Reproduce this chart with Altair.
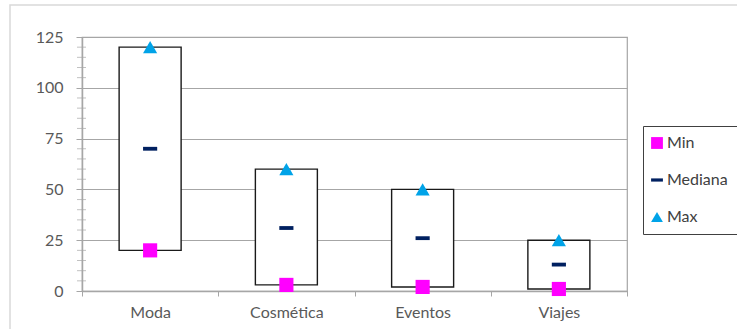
import altair as alt
import pandas as pd

categories = ["Moda", "Cosmética", "Eventos", "Viajes"]
min_vals = [20, 3, 2, 1]
median_vals = [70, 31, 26, 13]
max_vals = [120, 60, 50, 25]
y_ticks = [0, 25, 50, 75, 100, 125]
minor_ticks = [5, 10, 15, 20, 30, 35, 40, 45, 55, 60, 65, 70, 80, 85, 90, 95, 105, 110, 115, 120]

series_names = ["Min", "Mediana", "Max"]
series_colors = ["#FF00FF", "#002060", "#00A3E8"]
dash_path = "M-1,-0.27L1,-0.27L1,0.27L-1,0.27Z"
series_shapes = ["square", dash_path, "triangle-up"]

wide = pd.DataFrame({"cat": categories, "Min": min_vals, "Mediana": median_vals, "Max": max_vals})
rows = []
for s, vals in zip(series_names, [min_vals, median_vals, max_vals]):
    for c, v in zip(categories, vals):
        rows.append({"cat": c, "serie": s, "valor": v})
long = pd.DataFrame(rows)
minor = pd.DataFrame({"v": minor_ticks})

FONT = "Lato"
xenc = alt.X("cat:N", sort=categories, title=None,
             scale=alt.Scale(paddingInner=0, paddingOuter=0),
             axis=alt.Axis(labelAngle=0, tickBand="extent", labelFont=FONT, labelFontSize=16,
                           labelColor="#595959", labelPadding=8, tickSize=5, tickColor="#a6a6a6",
                           domainColor="#a6a6a6", domainWidth=1.5, grid=False))
yscale = alt.Scale(domain=[0, 125], nice=False, zero=True)

border = alt.Chart(pd.DataFrame({"a": [0]})).mark_rect(fill=None, stroke="#d9d9d9", strokeWidth=1.5).encode(
    x=alt.value(-72), x2=alt.value(660), y=alt.value(-32), y2=alt.value(297))

boxes = alt.Chart(wide).mark_bar(fill="white", stroke="#1a1a1a", strokeWidth=1.4, size=62).encode(
    x=xenc,
    y=alt.Y("Min:Q", scale=yscale, title=None,
            axis=alt.Axis(values=y_ticks, labelFont=FONT, labelFontSize=16, labelColor="#595959",
                          labelPadding=13, tickSize=6, tickColor="#a6a6a6", domainColor="#a6a6a6",
                          domainWidth=1.5, gridColor="#a6a6a6", gridWidth=1.2)),
    y2="Max:Q")

minor_layer = alt.Chart(minor).mark_tick(orient="horizontal", color="#a6a6a6", size=9, thickness=1).encode(
    y=alt.Y("v:Q", scale=yscale), x=alt.value(-0.5))

points = alt.Chart(long).mark_point(filled=True, opacity=1, size=200).encode(
    x=alt.X("cat:N", sort=categories),
    y=alt.Y("valor:Q", scale=yscale),
    color=alt.Color("serie:N", scale=alt.Scale(domain=series_names, range=series_colors), title=None,
                    legend=alt.Legend(orient="none", legendX=561, legendY=89, strokeColor="#404040",
                                      padding=9, rowPadding=21, labelFont=FONT, labelFontSize=16,
                                      labelColor="#404040", symbolSize=140, labelOffset=2,
                                      symbolOffset=-3,
                                      fillColor="white", symbolStrokeWidth=0)),
    shape=alt.Shape("serie:N", scale=alt.Scale(domain=series_names, range=series_shapes), title=None),
)

chart = alt.layer(border, boxes, minor_layer, points).properties(
    width=545, height=254,
    autosize=alt.AutoSizeParams(type="none"),
    padding={"left": 82, "top": 37, "right": 110, "bottom": 38},
    background="white",
).configure_view(stroke="#a6a6a6", strokeWidth=1.2)

chart.save("out.html", embed_options={"renderer": "svg", "actions": False})
